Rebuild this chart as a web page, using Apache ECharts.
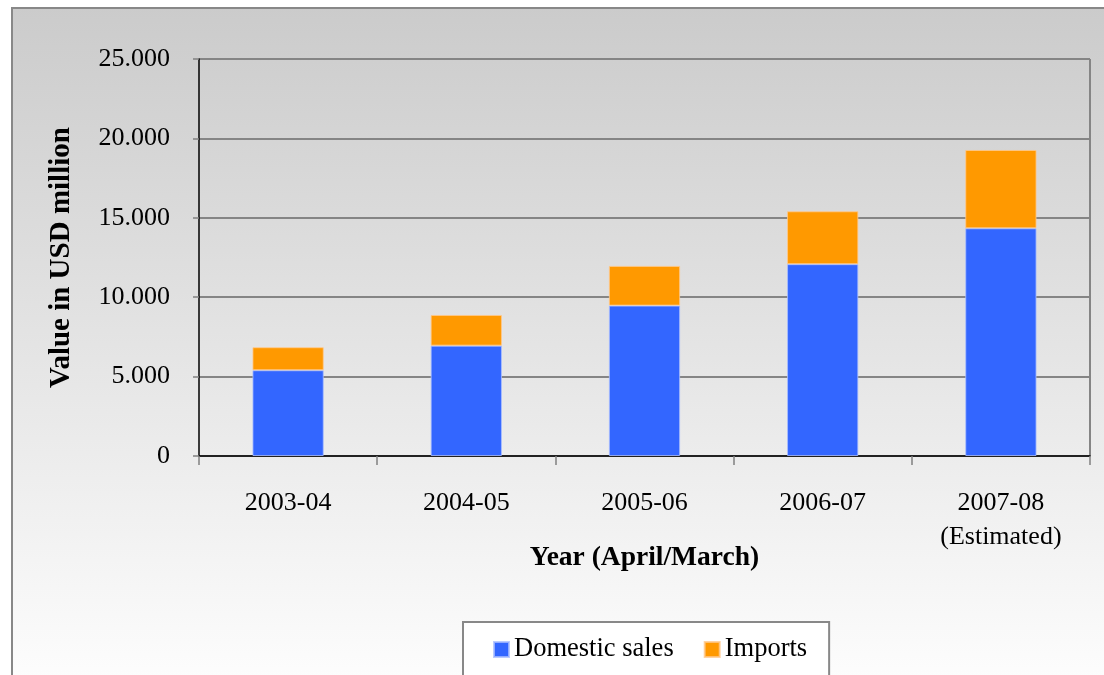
<!DOCTYPE html>
<html>
<head>
<meta charset="utf-8">
<script src="https://cdn.jsdelivr.net/npm/echarts@6/dist/echarts.min.js"></script>
<style>
html,body{margin:0;padding:0;background:#fff;}
#chart{width:1104px;height:675px;}
</style>
</head>
<body>
<div id="chart"></div>
<script>
const categories = ['2003-04', '2004-05', '2005-06', '2006-07', '2007-08\n(Estimated)'];
const domesticSales = [5400, 6950, 9470, 12080, 14340];
const imports = [1450, 1930, 2500, 3330, 4930];
const seriesNames = ['Domestic sales', 'Imports'];
const yTicks = { min: 0, max: 25000, interval: 5000 };
const yAxisTitle = 'Value in USD million';
const xAxisTitle = 'Year (April/March)';

const FONT = '"Liberation Serif", "DejaVu Serif", serif';

function fmt(v) {
  if (v === 0) return '0';
  return String(v).replace(/\B(?=(\d{3})+(?!\d))/g, '.');
}

const chart = echarts.init(document.getElementById('chart'), null, { renderer: 'canvas' });
chart.setOption({
  animation: false,
  backgroundColor: '#ffffff',
  textStyle: { fontFamily: FONT, color: '#000' },
  graphic: [{
    type: 'rect',
    z: -100,
    silent: true,
    shape: { x: 12, y: 8, width: 1110, height: 700 },
    style: {
      fill: new echarts.graphic.LinearGradient(0, 0, 0, 1, [
        { offset: 0, color: '#cbcbcb' },
        { offset: 1, color: '#ffffff' }
      ]),
      stroke: '#888888',
      lineWidth: 2
    }
  }, {
    type: 'line',
    z: -50,
    silent: true,
    shape: { x1: 1090, y1: 59, x2: 1090, y2: 456 },
    style: { stroke: '#858585', lineWidth: 2 }
  }],
  grid: { left: 199, right: 14, top: 59, bottom: 219, containLabel: false },
  legend: {
    left: 463,
    top: 622,
    data: seriesNames,
    icon: 'rect',
    itemWidth: 15,
    itemHeight: 15,
    itemGap: 30,
    padding: [14, 22, 24, 30],
    backgroundColor: '#ffffff',
    borderColor: '#888888',
    borderWidth: 2,
    borderRadius: 0,
    textStyle: { fontFamily: FONT, fontSize: 26.5, color: '#000', padding: [0, 0, 0, 0] }
  },
  xAxis: {
    type: 'category',
    data: categories,
    boundaryGap: true,
    name: xAxisTitle,
    nameLocation: 'middle',
    nameGap: 88,
    nameMoveOverlap: false,
    nameTextStyle: { fontFamily: FONT, fontSize: 27.5, fontWeight: 'bold', color: '#000' },
    axisLine: { show: true, lineStyle: { color: '#000', width: 1.5 } },
    axisTick: { show: true, length: 9, lineStyle: { color: '#808080', width: 1.5 } },
    axisLabel: { fontFamily: FONT, fontSize: 26, color: '#000', margin: 30, lineHeight: 34 },
    splitLine: { show: false }
  },
  yAxis: {
    type: 'value',
    min: yTicks.min,
    max: yTicks.max,
    interval: yTicks.interval,
    name: yAxisTitle,
    nameLocation: 'middle',
    nameGap: 123,
    nameRotate: 90,
    nameMoveOverlap: false,
    nameTextStyle: { fontFamily: FONT, fontSize: 29, fontWeight: 'bold', color: '#000' },
    axisLine: { show: true, lineStyle: { color: '#000', width: 1.5 } },
    axisTick: { show: true, length: 6, lineStyle: { color: '#808080', width: 1.5 } },
    axisLabel: { fontFamily: FONT, fontSize: 26, color: '#000', margin: 29, formatter: fmt },
    splitLine: { show: true, lineStyle: { color: '#858585', width: 2 } }
  },
  series: [{
    name: seriesNames[0],
    type: 'bar',
    stack: 'total',
    data: domesticSales,
    barWidth: '40%',
    itemStyle: { color: '#3366ff', borderColor: 'rgba(170,190,255,0.8)', borderWidth: 1 }
  }, {
    name: seriesNames[1],
    type: 'bar',
    stack: 'total',
    data: imports,
    barWidth: '40%',
    itemStyle: { color: '#ff9900', borderColor: 'rgba(255,200,140,0.8)', borderWidth: 1 }
  }]
});
</script>
</body>
</html>
